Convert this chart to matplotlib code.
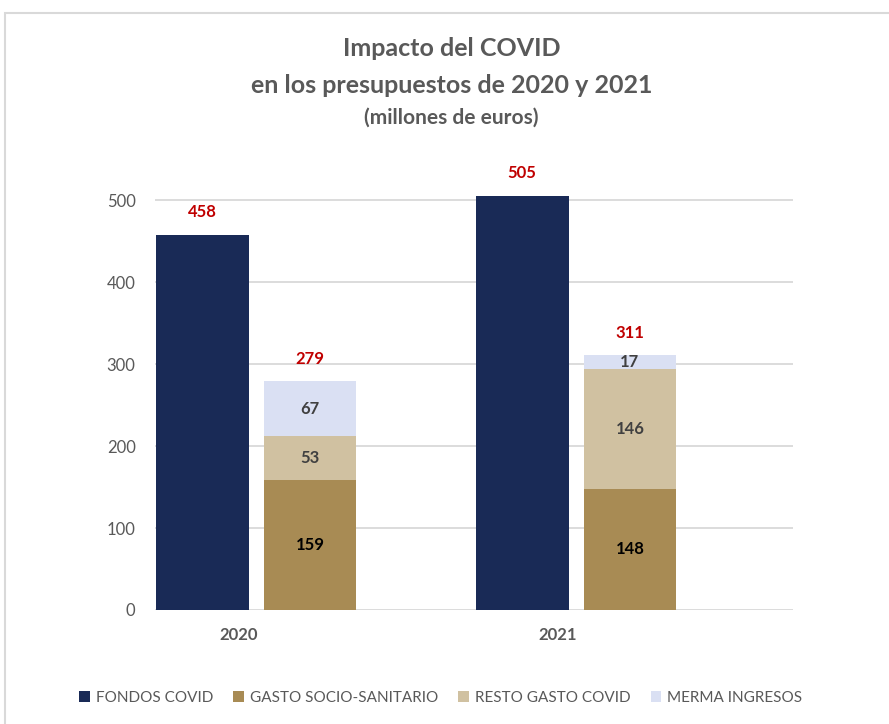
import matplotlib.pyplot as plt
import numpy as np
from matplotlib.patches import Rectangle

years = ["2020", "2021"]
fondos = [458, 505]
gasto_socio = [159, 148]
resto_gasto = [53, 146]
merma = [67, 17]
totales = [279, 311]

colors = {
    "fondos": "#192A56",
    "gasto": "#A88B54",
    "resto": "#D0C1A1",
    "merma": "#DAE0F3",
}
gray = "#595959"
red = "#C00000"

plt.rcParams["font.family"] = ["Lato", "DejaVu Sans"]

fig = plt.figure(figsize=(8.89, 7.24), dpi=100)
ax = fig.add_axes([0.1744, 0.1575, 0.7176, 0.6225])

groups = np.arange(len(years))
width = 0.29
x_fondos = groups + 0.148
x_stack = groups + 0.485

ax.bar(x_fondos, fondos, width, color=colors["fondos"], label="FONDOS COVID", zorder=3)
ax.bar(x_stack, gasto_socio, width, color=colors["gasto"], label="GASTO SOCIO-SANITARIO", zorder=3)
bottom = np.array(gasto_socio)
ax.bar(x_stack, resto_gasto, width, bottom=bottom, color=colors["resto"], label="RESTO GASTO COVID", zorder=3)
bottom2 = bottom + np.array(resto_gasto)
ax.bar(x_stack, merma, width, bottom=bottom2, color=colors["merma"], label="MERMA INGRESOS", zorder=3)

lbl = dict(ha="center", va="center", fontsize=12, fontweight="bold", zorder=4)
for i in range(len(years)):
    ax.text(x_fondos[i], fondos[i] + 28, str(fondos[i]), color=red, **lbl)
    ax.text(x_stack[i], totales[i] + 27, str(totales[i]), color=red, **lbl)
    ax.text(x_stack[i], gasto_socio[i] / 2, str(gasto_socio[i]), color="black", **lbl)
    ax.text(x_stack[i], bottom[i] + resto_gasto[i] / 2, str(resto_gasto[i]), color="#404040", **lbl)
    ax.text(x_stack[i], bottom2[i] + merma[i] / 2, str(merma[i]), color="#404040", **lbl)

ax.set_xlim(0, 1.995)
ax.set_ylim(0, 550)
ax.set_yticks(range(0, 501, 100))
ax.set_xticks(groups + 0.26, years)
for t in ax.get_xticklabels():
    t.set_fontweight("bold")
ax.tick_params(axis="both", length=0, colors=gray, labelsize=12)
ax.tick_params(axis="y", pad=14)
ax.tick_params(axis="x", pad=12)
ax.grid(axis="y", color="#D9D9D9", linewidth=1.3, zorder=0)
for s in ax.spines.values():
    s.set_visible(False)

fig.text(0.508, 0.933, "Impacto del COVID", ha="center", va="center",
         fontsize=18, fontweight="bold", color=gray)
fig.text(0.508, 0.882, "en los presupuestos de 2020 y 2021", ha="center", va="center",
         fontsize=18, fontweight="bold", color=gray)
fig.text(0.508, 0.838, "(millones de euros)", ha="center", va="center",
         fontsize=15, fontweight="bold", color=gray)

ax.legend(loc="center", bbox_to_anchor=(0.5, 0.5), bbox_transform=fig.transFigure,
          ncol=4, frameon=False, fontsize=11, labelcolor=gray,
          handlelength=0.7, handleheight=0.7, handletextpad=0.4, columnspacing=1.3)
leg = ax.get_legend()
leg.set_bbox_to_anchor((0.496, 1 - 698 / 724), transform=fig.transFigure)

fig.patches.append(Rectangle((5 / 889, -0.1), 1.2, 1 - 13 / 724 + 0.1, transform=fig.transFigure,
                             fill=False, edgecolor="#D9D9D9", linewidth=1.5))

fig.savefig("out.png", dpi=100)
